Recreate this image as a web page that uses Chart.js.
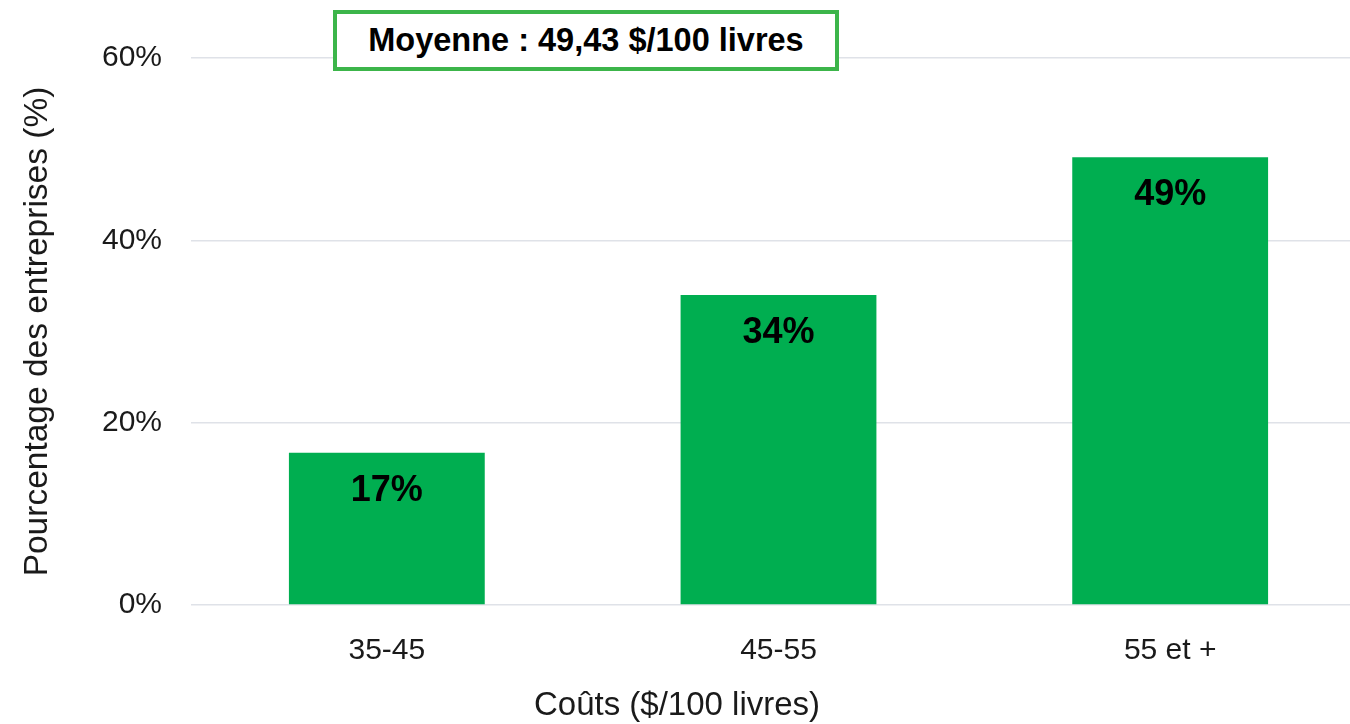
<!DOCTYPE html>
<html lang="fr">
<head>
<meta charset="utf-8">
<title>Coûts ($/100 livres)</title>
<script src="https://cdn.jsdelivr.net/npm/chart.js@4.4.1/dist/chart.umd.min.js"></script>
<style>
  html, body { margin: 0; padding: 0; background: #fff; overflow: hidden; }
  #wrap { position: relative; width: 1350px; height: 724px; overflow: hidden; }
  #chart { position: absolute; left: 0; top: 0; }
  #moyenne {
    position: absolute; left: 333px; top: 10px; width: 506px; height: 61px;
    box-sizing: border-box; border: 4px solid #3cb54a; background: #fff;
    font: bold 32.5px "Liberation Sans", Arial, sans-serif; color: #000;
    display: flex; align-items: center; justify-content: center;
  }
</style>
</head>
<body>
<div id="wrap">
  <canvas id="chart" width="1366" height="724"></canvas>
  <div id="moyenne">Moyenne : 49,43 $/100 livres</div>
</div>
<script>
const categories = ["35-45", "45-55", "55 et +"];
const shares = [16.7, 34.0, 49.1];
const shareLabels = ["17%", "34%", "49%"];
const yTicks = [0, 20, 40, 60];
const xTitle = "Coûts ($/100 livres)";

const FONT = '"Liberation Sans", Arial, sans-serif';

// labels inside each bar near its top, plus the x title centred on the page (not the plot)
const extras = {
  id: "extras",
  afterDatasetsDraw(chart) {
    const ctx = chart.ctx;
    ctx.save();
    ctx.font = "bold 36px " + FONT;
    ctx.fillStyle = "#000";
    ctx.textAlign = "center";
    ctx.textBaseline = "middle";
    chart.getDatasetMeta(0).data.forEach((bar, i) => {
      ctx.fillText(shareLabels[i], bar.x, bar.y + 38);
    });
    ctx.font = "33px " + FONT;
    ctx.fillStyle = "#1a1a1a";
    ctx.fillText(xTitle, 677, chart.height - 18);
    ctx.restore();
  },
};

new Chart(document.getElementById("chart").getContext("2d"), {
  type: "bar",
  data: {
    labels: categories,
    datasets: [{ data: shares, backgroundColor: "#00ae50", barPercentage: 0.5, categoryPercentage: 1 }],
  },
  plugins: [extras],
  options: {
    responsive: false, animation: false,
    layout: { padding: { top: 58, right: 0, bottom: 0, left: 0 } },
    plugins: { legend: { display: false }, tooltip: { enabled: false } },
    scales: {
      x: {
        grid: { display: false, drawTicks: false },
        border: { display: false },
        ticks: { color: "#1a1a1a", font: { family: FONT, size: 30 }, padding: 28 },
        afterFit: (s) => { s.height = 119; },
      },
      y: {
        min: 0, max: 60,
        afterBuildTicks: (s) => { s.ticks = yTicks.map((v) => ({ value: v })); },
        grid: { color: "#dfe2e8", lineWidth: 1.5, drawTicks: false },
        border: { display: false },
        ticks: { color: "#1a1a1a", font: { family: FONT, size: 30 }, padding: 29 },
        title: { display: true, text: "Pourcentage des entreprises (%)", color: "#1a1a1a", font: { family: FONT, size: 33.5 }, padding: { top: 18, bottom: 0 } },
        afterFit: (s) => { s.width = 191; },
      },
    },
  },
});
Chart.getChart("chart").options.scales.y.ticks.callback = (v) => v + "%";
Chart.getChart("chart").update();
</script>
</body>
</html>
